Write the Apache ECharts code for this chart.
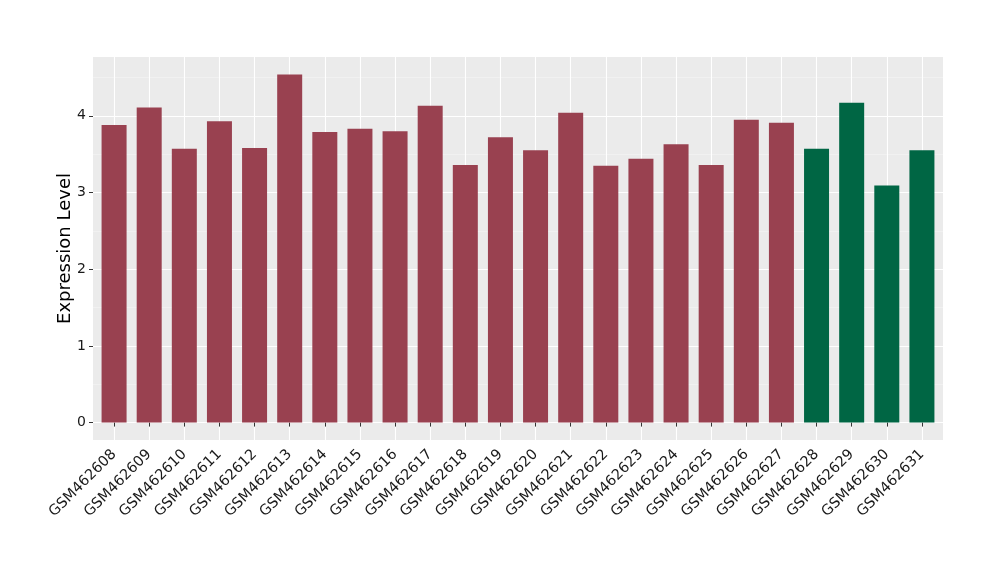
<!DOCTYPE html>
<html><head><meta charset="utf-8">
<script src="https://cdn.jsdelivr.net/npm/echarts@6/dist/echarts.min.js"></script>
<style>html,body{margin:0;padding:0;background:#fff}#c{width:1000px;height:580px}</style>
</head><body><div id="c"></div>
<script>
const categories = ["GSM462608","GSM462609","GSM462610","GSM462611","GSM462612","GSM462613","GSM462614","GSM462615","GSM462616","GSM462617","GSM462618","GSM462619","GSM462620","GSM462621","GSM462622","GSM462623","GSM462624","GSM462625","GSM462626","GSM462627","GSM462628","GSM462629","GSM462630","GSM462631"];
const values = [3.88,4.11,3.57,3.93,3.58,4.54,3.79,3.83,3.80,4.13,3.36,3.72,3.55,4.04,3.35,3.44,3.63,3.36,3.95,3.91,3.57,4.17,3.09,3.55];
const groups = ["A","A","A","A","A","A","A","A","A","A","A","A","A","A","A","A","A","A","A","A","B","B","B","B"];
const yTicks = [0,1,2,3,4];
const yMinor = [0.5,1.5,2.5,3.5,4.5];
const groupColors = {A:"#994150", B:"#006644"};

const maxV = Math.max(...values);
const yMin = -0.05*maxV, yMax = maxV*1.05;
const xPos = categories.map((c,i)=>i+1);
const font = "'DejaVu Sans', sans-serif";

const chart = echarts.init(document.getElementById('c'), null, {renderer:'canvas'});
chart.setOption({
  animation:false,
  grid:{left:93,right:57,top:57,bottom:140,show:true,backgroundColor:'#EBEBEB',borderWidth:0},
  xAxis:{
    type:'value', min:0.4, max:categories.length+0.6,
    axisLine:{show:false},
    axisTick:{show:true,length:4,lineStyle:{color:'#333333',width:1},customValues:xPos},
    axisLabel:{customValues:xPos, rotate:45, margin:12, fontSize:14.5, color:'#1a1a1a', fontFamily:font,
      formatter:v=>categories[Math.round(v)-1]},
    splitLine:{show:true,lineStyle:{color:'#ffffff',width:1.1}}
  },
  yAxis:[{
    type:'value', min:yMin, max:yMax,
    name:'Expression Level', nameLocation:'middle', nameGap:19, nameRotate:90, nameMoveOverlap:false,
    nameTextStyle:{fontSize:18,color:'#000',fontFamily:font},
    axisLine:{show:false},
    axisTick:{show:true,length:4,lineStyle:{color:'#333333',width:1},customValues:yTicks},
    axisLabel:{customValues:yTicks, margin:7, fontSize:14, color:'#1a1a1a', fontFamily:font},
    splitLine:{show:true,lineStyle:{color:'#ffffff',width:1.1}}
  },{
    type:'value', min:yMin, max:yMax, position:'left',
    axisLine:{show:false},
    axisTick:{show:false,customValues:yMinor},
    axisLabel:{show:false,customValues:yMinor},
    splitLine:{show:true,lineStyle:{color:'#F5F5F5',width:0.6}}
  }],
  series:[{
    type:'bar', barWidth:25, yAxisIndex:0,
    data:values.map((v,i)=>({value:[xPos[i],v],itemStyle:{color:groupColors[groups[i]]}}))
  }]
});
</script></body></html>
